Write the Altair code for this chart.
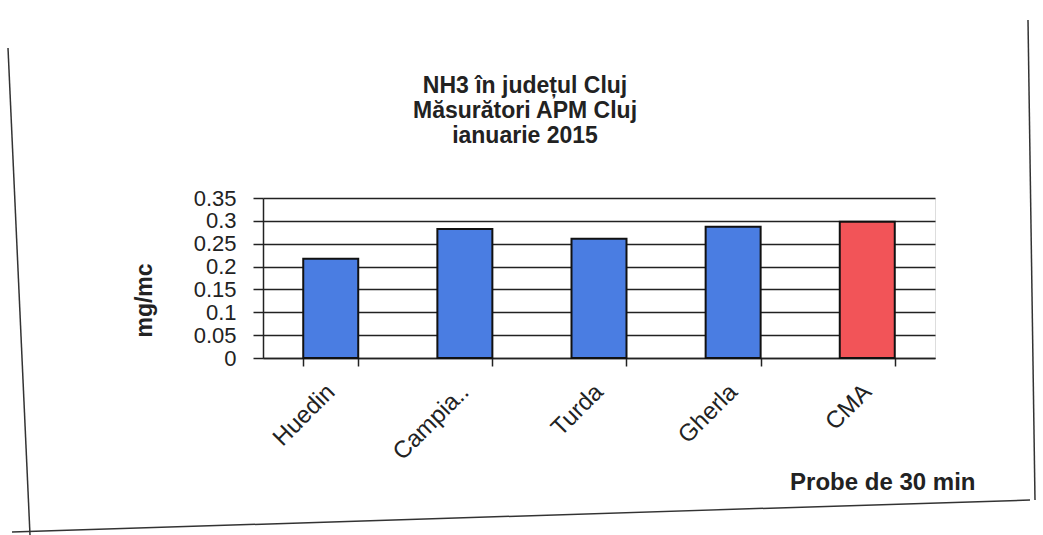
import altair as alt
import pandas as pd

categories = ["Huedin", "Campia..", "Turda", "Gherla", "CMA"]
values = [0.217, 0.282, 0.261, 0.287, 0.298]
bar_colors = ["#4a7de2", "#4a7de2", "#4a7de2", "#4a7de2", "#f25458"]
y_ticks = [0, 0.05, 0.1, 0.15, 0.2, 0.25, 0.3, 0.35]
title_lines = ["NH3 în județul Cluj", "Măsurători APM Cluj", "ianuarie 2015"]

df = pd.DataFrame({"cat": categories, "val": values, "color": bar_colors})

FONT = "Liberation Sans"
INK = "#222222"

bars = alt.Chart(df).mark_bar(stroke="#111111", strokeWidth=2).encode(
    x=alt.X("cat:N", sort=categories, scale=alt.Scale(paddingInner=0.59, paddingOuter=0.3),
            axis=alt.Axis(title="Probe de 30 min", labelAngle=-45, labelFontSize=24,
                          labelFont=FONT, labelColor=INK, labelAlign="right",
                          labelBaseline="middle", labelPadding=22, tickBand="extent",
                          tickSize=8, tickColor=INK, domainColor=INK,
                          domainWidth=1.5, tickWidth=1.5,
                          titleFont=FONT, titleFontSize=24, titleFontWeight="bold",
                          titleColor=INK, titleX=712, titleY=131,
                          titleAlign="right", titleBaseline="alphabetic")),
    y=alt.Y("val:Q", scale=alt.Scale(domain=[0, 0.35], nice=False),
            axis=alt.Axis(title="mg/mc", values=y_ticks, format="~g", labelFontSize=22,
                          labelFont=FONT, labelColor=INK, labelPadding=17, tickSize=10,
                          tickColor=INK, tickWidth=1.5, domainColor=INK,
                          domainWidth=1.5, grid=True, gridColor=INK, gridWidth=1.5,
                          labelOverlap=False,
                          titleFont=FONT, titleFontSize=23, titleFontWeight="bold",
                          titleColor=INK, titleX=-119, titleY=102, titleAngle=-90,
                          titleAlign="center", titleBaseline="middle")),
    color=alt.Color("color:N", scale=None),
)

title_df = pd.DataFrame({"t": ["\n".join(title_lines)]})
title = alt.Chart(title_df).mark_text(
    font=FONT, fontSize=23, fontWeight="bold", color=INK, lineBreak="\n",
    lineHeight=25, align="center", baseline="alphabetic",
).encode(text="t:N", x=alt.value(262), y=alt.value(-105))

frame = pd.DataFrame({"k": ["left", "bottom", "right"],
                      "x": [-255, -251, 765], "y": [-150, 334, -178],
                      "x2": [-233, 767, 772], "y2": [337, 302, 302]})
border = alt.Chart(frame).mark_rule(color="#333333", strokeWidth=1.5).encode(
    x=alt.X("x:Q", scale=None), y=alt.Y("y:Q", scale=None),
    x2="x2:Q", y2="y2:Q")

chart = alt.layer(bars, title, border).properties(
    width=672, height=160,
    autosize=alt.AutoSizeParams(type="none"),
    padding={"left": 263, "top": 198, "right": 108, "bottom": 177},
).configure_view(stroke="#8a9aaa", strokeWidth=1.5).configure(background="white")

chart.save("out.html", embed_options={"renderer": "svg", "actions": False})
